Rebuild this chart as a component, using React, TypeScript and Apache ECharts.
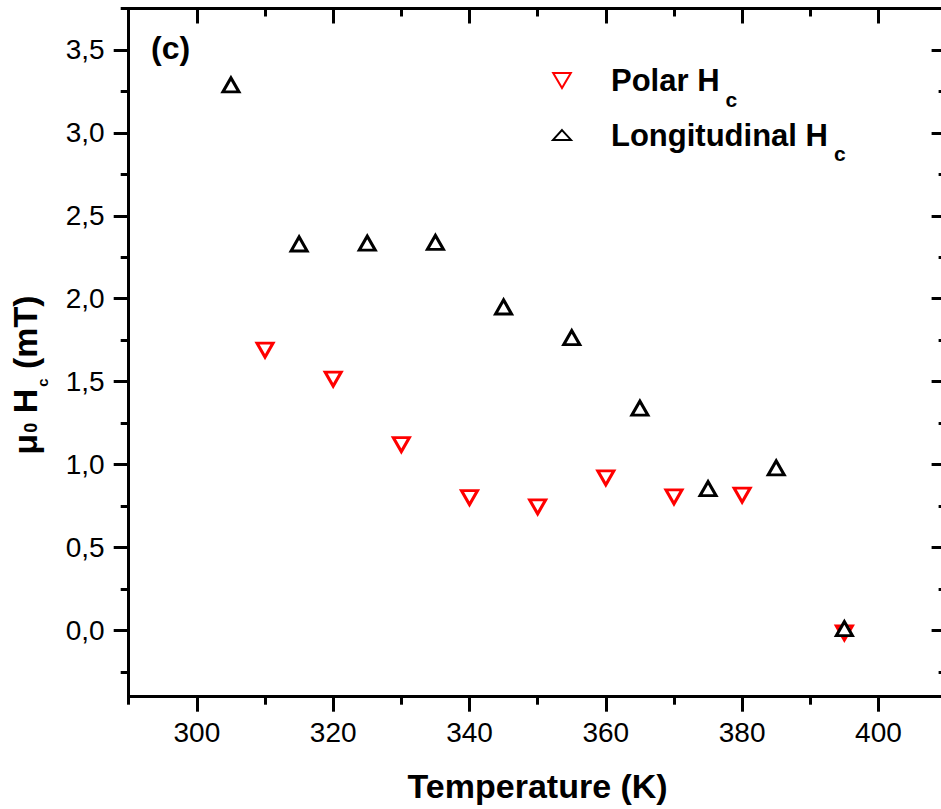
import React, { useEffect, useRef } from "react";
import * as echarts from "echarts";

const FONT = "'Liberation Sans', Arial, Helvetica, sans-serif";

// Data
const temperaturePolar = [310, 320, 330, 340, 350, 360, 370, 380, 395];
const polarHc = [1.69, 1.515, 1.12, 0.8, 0.745, 0.92, 0.805, 0.815, -0.015];
const temperatureLong = [305, 315, 325, 335, 345, 355, 365, 375, 385, 395];
const longHc = [3.29, 2.33, 2.335, 2.34, 1.95, 1.765, 1.34, 0.855, 0.98, 0.01];

const xMajorTicks = [300, 320, 340, 360, 380, 400];
const xMinorTicks = [290, 310, 330, 350, 370, 390, 410];
const yMajorTicks = [0, 0.5, 1, 1.5, 2, 2.5, 3, 3.5];
const yMinorTicks = [-0.25, 0.25, 0.75, 1.25, 1.75, 2.25, 2.75, 3.25, 3.75];

const X_MIN = 290;
const X_MAX = 410;
const Y_MIN = -0.4;
const Y_MAX = 3.75;

const seriesNames = ["Polar Hc", "Longitudinal Hc"];

const DOWN_TRI = "path://M0,0 L20,0 L10,17 Z";
const UP_TRI = "path://M10,0 L20,17 L0,17 Z";
const UP_TRI_FLAT = "path://M10,0 L20,11 L0,11 Z";

const GRID = { left: 128.7, right: -5.6, top: 8.5, bottom: 112.3 };

export default function App() {
  const ref = useRef<HTMLDivElement>(null);

  useEffect(() => {
    if (!ref.current) return;
    const chart = echarts.init(ref.current, null, { renderer: "svg" });
    const black = "#000";
    const lineW = 3;

    const baseAxis = (extra: any) => ({
      type: "value",
      splitLine: { show: false },
      axisLine: { show: false, onZero: false, lineStyle: { color: black, width: lineW } },
      axisLabel: { show: false },
      ...extra,
    });

    const option: any = {
      animation: false,
      backgroundColor: "#fff",
      grid: [
        { ...GRID, containLabel: false, outerBoundsMode: "none" },
        { ...GRID, containLabel: false, outerBoundsMode: "none" },
      ],
      xAxis: [
        baseAxis({
          gridIndex: 0,
          position: "bottom",
          min: X_MIN,
          max: X_MAX,
          axisLine: { show: true, onZero: false, lineStyle: { color: black, width: lineW } },
          axisTick: {
            show: true,
            inside: false,
            length: 15,
            customValues: xMajorTicks,
            lineStyle: { color: black, width: lineW },
          },
          axisLabel: {
            show: true,
            customValues: xMajorTicks,
            fontSize: 28,
            fontFamily: FONT,
            color: black,
            margin: 22,
          },
          name: "Temperature (K)",
          nameLocation: "middle",
          nameGap: 72,
          nameTextStyle: { fontSize: 34, fontWeight: "bold", fontFamily: FONT, color: black },
        }),
        baseAxis({
          gridIndex: 0,
          position: "top",
          min: X_MIN,
          max: X_MAX,
          axisLine: { show: true, onZero: false, lineStyle: { color: black, width: lineW } },
          axisTick: {
            show: true,
            inside: true,
            length: 15,
            customValues: xMajorTicks,
            lineStyle: { color: black, width: lineW },
          },
        }),
        baseAxis({
          gridIndex: 1,
          position: "bottom",
          min: X_MIN,
          max: X_MAX,
          axisTick: {
            show: true,
            inside: false,
            length: 8,
            customValues: xMinorTicks,
            lineStyle: { color: black, width: lineW },
          },
        }),
        baseAxis({
          gridIndex: 1,
          position: "top",
          min: X_MIN,
          max: X_MAX,
          axisTick: {
            show: true,
            inside: true,
            length: 8,
            customValues: xMinorTicks,
            lineStyle: { color: black, width: lineW },
          },
        }),
      ],
      yAxis: [
        baseAxis({
          gridIndex: 0,
          position: "left",
          min: Y_MIN,
          max: Y_MAX,
          axisLine: { show: true, onZero: false, lineStyle: { color: black, width: lineW } },
          axisTick: {
            show: true,
            inside: false,
            length: 15,
            customValues: yMajorTicks,
            lineStyle: { color: black, width: lineW },
          },
          axisLabel: {
            show: true,
            customValues: yMajorTicks,
            fontSize: 28,
            fontFamily: FONT,
            color: black,
            margin: 24,
            formatter: (v: number) => v.toFixed(1).replace(".", ","),
          },
        }),
        baseAxis({
          gridIndex: 0,
          position: "right",
          min: Y_MIN,
          max: Y_MAX,
          axisLine: { show: true, onZero: false, lineStyle: { color: black, width: lineW } },
          axisTick: {
            show: true,
            inside: true,
            length: 15,
            customValues: yMajorTicks,
            lineStyle: { color: black, width: lineW },
          },
        }),
        baseAxis({
          gridIndex: 1,
          position: "left",
          min: Y_MIN,
          max: Y_MAX,
          axisTick: {
            show: true,
            inside: false,
            length: 8,
            customValues: yMinorTicks,
            lineStyle: { color: black, width: lineW },
          },
        }),
        baseAxis({
          gridIndex: 1,
          position: "right",
          min: Y_MIN,
          max: Y_MAX,
          axisTick: {
            show: true,
            inside: true,
            length: 8,
            customValues: yMinorTicks,
            lineStyle: { color: black, width: lineW },
          },
        }),
      ],
      legend: {
        orient: "vertical",
        left: 552,
        top: 65,
        padding: 0,
        itemGap: 10,
        itemWidth: 18,
        itemHeight: 15,
        data: [
          { name: seriesNames[0], icon: DOWN_TRI },
          { name: seriesNames[1], icon: UP_TRI_FLAT },
        ],
        formatter: (n: string) => n.replace(/Hc$/, "H{s|c}"),
        textStyle: {
          fontSize: 31,
          fontWeight: "bold",
          fontFamily: FONT,
          color: black,
          padding: [0, 0, 0, 35],
          rich: {
            s: {
              fontSize: 21,
              fontWeight: "bold",
              fontFamily: FONT,
              color: black,
              padding: [37, 0, 0, 6],
            },
          },
        },
      },
      graphic: [
        {
          type: "text",
          x: 151,
          y: 48,
          style: {
            text: "(c)",
            fontSize: 32,
            fontWeight: "bold",
            fontFamily: FONT,
            fill: black,
            align: "left",
            verticalAlign: "middle",
          },
        },
        {
          type: "text",
          x: 25,
          y: 375,
          rotation: Math.PI / 2,
          style: {
            text: "μ{z|0} H{c|c} (mT)",
            fontSize: 34,
            fontWeight: "bold",
            fontFamily: FONT,
            fill: black,
            align: "center",
            verticalAlign: "middle",
            rich: {
              z: { fontSize: 18, fontWeight: "bold", fontFamily: FONT, fill: black, padding: [12, 0, 0, 1] },
              c: { fontSize: 15, fontWeight: "bold", fontFamily: FONT, fill: black, padding: [35, 0, 0, 2] },
            },
          },
        },
      ],
      series: [
        {
          name: seriesNames[0],
          type: "scatter",
          xAxisIndex: 0,
          yAxisIndex: 0,
          symbol: DOWN_TRI,
          symbolSize: [16, 14],
          itemStyle: { color: "#fff", borderColor: "#ff0000", borderWidth: 3, opacity: 1 },
          data: temperaturePolar.map((t, i) => [t, polarHc[i]]),
          z: 3,
        },
        {
          name: seriesNames[1],
          type: "scatter",
          xAxisIndex: 0,
          yAxisIndex: 0,
          symbol: UP_TRI,
          symbolSize: [16, 14],
          itemStyle: { color: "#fff", borderColor: "#000", borderWidth: 3, opacity: 1 },
          data: temperatureLong.map((t, i) => [t, longHc[i]]),
          z: 4,
        },
      ],
    };

    chart.setOption(option);
    return () => chart.dispose();
  }, []);

  return (
    <div
      ref={ref}
      style={{ position: "fixed", left: 0, top: 0, width: 941, height: 809, background: "#fff" }}
    />
  );
}
